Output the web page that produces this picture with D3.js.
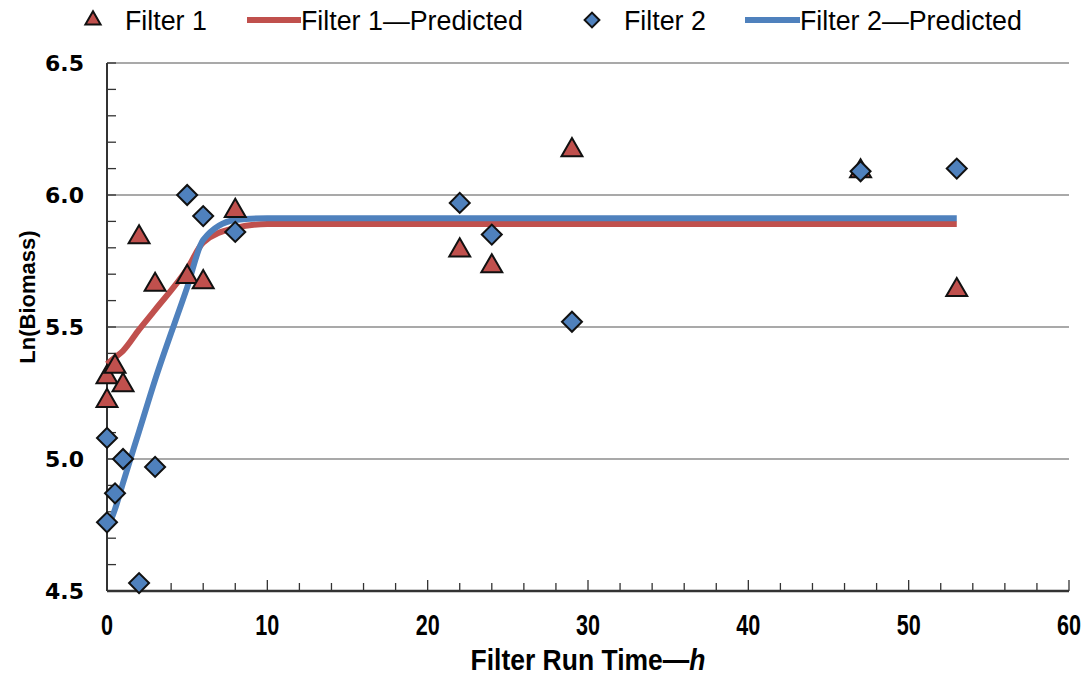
<!DOCTYPE html>
<html lang="en">
<head>
  <title>Filter biomass</title>
  <meta charset="utf-8">
  <script src="https://d3js.org/d3.v7.min.js" charset="utf-8"></script>
  <style>
    body { margin: 0; background: #fff; }
  </style>
</head>
<body>
  <script>
  // data
  var f1Time = [0, 0, 0.5, 1, 2, 3, 5, 6, 8, 22, 24, 29, 47, 53];
  var f1Biomass = [5.22, 5.31, 5.35, 5.28, 5.84, 5.66, 5.69, 5.67, 5.94, 5.79, 5.73, 6.17, 6.09, 5.64];

  var f2Time = [0, 0, 0.5, 1, 2, 3, 5, 6, 8, 22, 24, 29, 47, 53];
  var f2Biomass = [5.08, 4.76, 4.87, 5.0, 4.53, 4.97, 6.0, 5.92, 5.86, 5.97, 5.85, 5.52, 6.09, 6.10];

  var predTime = [0, 0.5, 1, 2, 3, 5, 6, 8, 10, 22, 24, 29, 47, 53];
  var f1Pred = [5.36, 5.385, 5.41, 5.49, 5.565, 5.72, 5.82, 5.875, 5.89, 5.89, 5.89, 5.89, 5.89, 5.89];
  var f2Pred = [4.73, 4.81, 4.91, 5.105, 5.30, 5.65, 5.83, 5.905, 5.912, 5.912, 5.912, 5.912, 5.912, 5.912];

  var xTicks = [0, 10, 20, 30, 40, 50, 60];
  var yTicks = [4.5, 5.0, 5.5, 6.0, 6.5];

  var w = 1091;
  var h = 679;
  var red = "#c0504d";
  var blue = "#4f81bd";
  var sans = "'Liberation Sans', Arial, sans-serif";

  var svg = d3.select("body")
    .append("svg")
    .attr("width", w)
    .attr("height", h);

  var xScale = d3.scaleLinear().domain([0, 60]).range([107, 1069]);
  var yScale = d3.scaleLinear().domain([4.5, 6.5]).range([591, 63]);

  // gridlines
  svg.selectAll("line.grid")
    .data(yTicks.slice(1))
    .enter()
    .append("line")
    .attr("class", "grid")
    .attr("x1", xScale(0))
    .attr("x2", xScale(60))
    .attr("y1", function(d) { return yScale(d); })
    .attr("y2", function(d) { return yScale(d); })
    .attr("stroke", "#8c8c8c")
    .attr("stroke-width", 1.5);

  // minor ticks pointing inward
  var xMinor = d3.range(0, 61, 2);
  var yMinor = d3.range(45, 66, 1).map(function(d) { return d / 10; });

  svg.selectAll("line.xminor")
    .data(xMinor)
    .enter()
    .append("line")
    .attr("x1", function(d) { return xScale(d); })
    .attr("x2", function(d) { return xScale(d); })
    .attr("y1", yScale(4.5))
    .attr("y2", function(d) { return yScale(4.5) - (d % 10 == 0 ? 11 : 8); })
    .attr("stroke", "#333")
    .attr("stroke-width", 1.3);

  svg.selectAll("line.yminor")
    .data(yMinor)
    .enter()
    .append("line")
    .attr("x1", xScale(0))
    .attr("x2", xScale(0) + 9)
    .attr("y1", function(d) { return yScale(d); })
    .attr("y2", function(d) { return yScale(d); })
    .attr("stroke", "#333")
    .attr("stroke-width", 1.3);

  // axis lines
  svg.append("line")
    .attr("x1", xScale(0)).attr("x2", xScale(0))
    .attr("y1", yScale(6.5)).attr("y2", yScale(4.5))
    .attr("stroke", "#333").attr("stroke-width", 2);

  svg.append("line")
    .attr("x1", xScale(0)).attr("x2", xScale(60))
    .attr("y1", yScale(4.5)).attr("y2", yScale(4.5))
    .attr("stroke", "#333").attr("stroke-width", 2.5);

  // tick labels
  svg.selectAll("text.ylab")
    .data(yTicks)
    .enter()
    .append("text")
    .attr("x", 84)
    .attr("y", function(d) { return yScale(d) + 8; })
    .attr("text-anchor", "end")
    .attr("font-family", "'DejaVu Sans', sans-serif")
    .attr("font-weight", "bold")
    .attr("font-size", 22)
    .text(function(d) { return d.toFixed(1); });

  // x labels are tall and narrow in the original, so stretch them a bit
  svg.selectAll("text.xlab")
    .data(xTicks)
    .enter()
    .append("text")
    .attr("transform", function(d) { return "translate(" + xScale(d) + ",635) scale(0.9,1.2)"; })
    .attr("text-anchor", "middle")
    .attr("font-family", sans)
    .attr("font-weight", "bold")
    .attr("font-size", 24)
    .text(function(d) { return d; });

  // axis titles
  var xt = svg.append("text")
    .attr("transform", "translate(588,670) scale(1,1.12)")
    .attr("text-anchor", "middle")
    .attr("font-family", sans)
    .attr("font-weight", "bold")
    .attr("font-size", 26.5)
    .text("Filter Run Time\u2014");
  xt.append("tspan").attr("font-style", "italic").text("h");

  svg.append("text")
    .attr("text-anchor", "middle")
    .attr("transform", "translate(35, 297) rotate(-90)")
    .attr("font-family", sans)
    .attr("font-weight", "bold")
    .attr("font-size", 22)
    .text("Ln(Biomass)");

  // predicted lines
  var line = function(vals) {
    return d3.line()
      .x(function(d, i) { return xScale(predTime[i]); })
      .y(function(d) { return yScale(d); })
      .curve(d3.curveMonotoneX)(vals);
  };

  svg.append("path")
    .attr("d", line(f1Pred))
    .attr("fill", "none")
    .attr("stroke", red)
    .attr("stroke-width", 6);

  svg.append("path")
    .attr("d", line(f2Pred))
    .attr("fill", "none")
    .attr("stroke", blue)
    .attr("stroke-width", 6);

  // markers
  var tri = d3.symbol().type(d3.symbolTriangle).size(190);
  var dia = d3.symbol().type(d3.symbolSquare).size(200);

  svg.selectAll("path.f1")
    .data(f1Biomass)
    .enter()
    .append("path")
    .attr("d", tri)
    .attr("transform", function(d, i) {
      return "translate(" + xScale(f1Time[i]) + "," + yScale(d) + ")";
    })
    .attr("fill", red)
    .attr("stroke", "#111")
    .attr("stroke-width", 2);

  svg.selectAll("path.f2")
    .data(f2Biomass)
    .enter()
    .append("path")
    .attr("d", dia)
    .attr("transform", function(d, i) {
      return "translate(" + xScale(f2Time[i]) + "," + yScale(d) + ") rotate(45)";
    })
    .attr("fill", blue)
    .attr("stroke", "#111")
    .attr("stroke-width", 2);

  // legend
  var legendY = 20;
  var lg = svg.append("g").attr("font-family", sans).attr("font-size", 26.8);

  lg.append("path").attr("d", d3.symbol().type(d3.symbolTriangle).size(100))
    .attr("transform", "translate(93," + legendY + ")")
    .attr("fill", red).attr("stroke", "#111").attr("stroke-width", 2);
  lg.append("text").attr("x", 125).attr("y", legendY + 10).text("Filter 1");

  lg.append("line").attr("x1", 247).attr("x2", 301)
    .attr("y1", legendY).attr("y2", legendY)
    .attr("stroke", red).attr("stroke-width", 6);
  lg.append("text").attr("x", 301).attr("y", legendY + 10).text("Filter 1\u2014Predicted");

  lg.append("path").attr("d", d3.symbol().type(d3.symbolSquare).size(110))
    .attr("transform", "translate(592," + legendY + ") rotate(45)")
    .attr("fill", blue).attr("stroke", "#111").attr("stroke-width", 2);
  lg.append("text").attr("x", 624).attr("y", legendY + 10).text("Filter 2");

  lg.append("line").attr("x1", 745).attr("x2", 800)
    .attr("y1", legendY).attr("y2", legendY)
    .attr("stroke", blue).attr("stroke-width", 6);
  lg.append("text").attr("x", 800).attr("y", legendY + 10).text("Filter 2\u2014Predicted");
  </script>
</body>
</html>
